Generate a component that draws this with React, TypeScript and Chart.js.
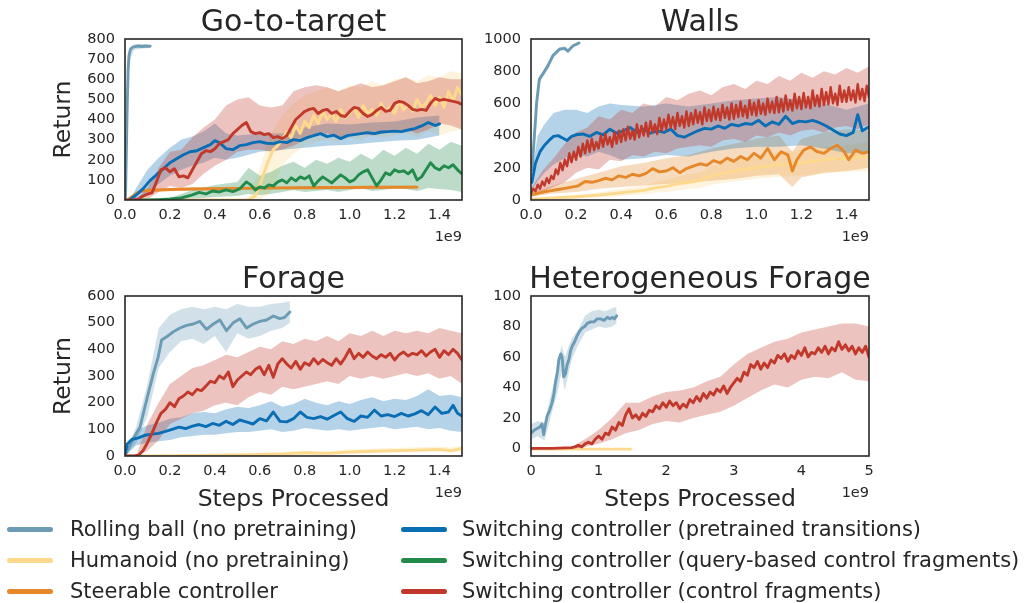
import React, { useEffect, useRef } from 'react';
import { Chart, registerables } from 'chart.js';
Chart.register(...registerables);

const FONT = "'DejaVu Sans', 'Noto Sans', sans-serif";
const TEXT = '#262626';

// ---------- colours ----------
const C_BALL = '#6b9bb5';
const C_HUM = '#fdd98e';
const C_STEER = '#e68829';
const C_PRE = '#0a6eb4';
const C_QUERY = '#228b4b';
const C_FRAG = '#c0392b';

// ---------- tick values ----------
const xTicks15 = [0, 0.2, 0.4, 0.6, 0.8, 1.0, 1.2, 1.4];
const xTicksHet = [0, 1, 2, 3, 4, 5];
const yTicksGtt = [0, 100, 200, 300, 400, 500, 600, 700, 800];
const yTicksWalls = [0, 200, 400, 600, 800, 1000];
const yTicksFor = [0, 100, 200, 300, 400, 500, 600];
const yTicksHet = [0, 20, 40, 60, 80, 100];

// ---------- Go-to-target ----------
const gttBallX = [0.002, 0.006, 0.010, 0.014, 0.018, 0.024, 0.032, 0.045, 0.060, 0.075, 0.090, 0.105, 0.112];
const gttBallY = [0, 240, 480, 650, 720, 748, 758, 762, 765, 763, 765, 764, 764];
const gttBallBX = [0.002, 0.01, 0.02, 0.04, 0.07, 0.112];
const gttBallLo = [0, 440, 690, 745, 752, 755];
const gttBallHi = [0, 520, 750, 775, 775, 772];

const gttHumX = [0, 0.1, 0.2, 0.3, 0.4, 0.5, 0.55, 0.58, 0.6, 0.62, 0.64, 0.66, 0.68, 0.7, 0.72, 0.74, 0.76, 0.78, 0.8, 0.82, 0.84, 0.86, 0.88, 0.9, 0.92, 0.94, 0.96, 0.98, 1.0, 1.02, 1.04, 1.06, 1.08, 1.1, 1.12, 1.14, 1.16, 1.18, 1.2, 1.22, 1.24, 1.26, 1.28, 1.3, 1.32, 1.34, 1.36, 1.38, 1.4, 1.42, 1.44, 1.46, 1.48, 1.5];
const gttHumY = [0, 0, 0, 0, 0, 0, 2, 20, 70, 140, 200, 250, 270, 300, 340, 310, 370, 330, 390, 360, 420, 380, 440, 400, 430, 390, 450, 410, 430, 460, 410, 470, 430, 450, 420, 480, 440, 460, 430, 490, 450, 470, 440, 500, 460, 480, 520, 470, 510, 460, 540, 490, 560, 520];
const gttHumBX = [0.5, 0.55, 0.6, 0.65, 0.7, 0.75, 0.8, 0.85, 0.9, 0.95, 1.0, 1.05, 1.1, 1.15, 1.2, 1.25, 1.3, 1.35, 1.4, 1.45, 1.5];
const gttHumLo = [0, 0, 0, 40, 170, 230, 270, 290, 300, 290, 310, 300, 320, 310, 320, 330, 310, 340, 320, 340, 350];
const gttHumHi = [0, 10, 160, 330, 420, 480, 520, 540, 560, 540, 570, 560, 590, 570, 600, 610, 590, 620, 610, 640, 630];

const gttSteerX = [0.01, 0.03, 0.05, 0.07, 0.1, 0.15, 0.2, 0.3, 0.4, 0.5, 0.6, 0.7, 0.8, 0.9, 1.0, 1.1, 1.2, 1.3];
const gttSteerY = [0, 15, 32, 44, 48, 50, 52, 55, 56, 58, 59, 60, 61, 62, 62, 63, 63, 64];
const gttSteerLo = [0, 8, 22, 34, 39, 42, 44, 47, 48, 50, 51, 52, 53, 54, 54, 55, 55, 56];
const gttSteerHi = [0, 22, 42, 54, 57, 58, 60, 63, 64, 66, 67, 68, 69, 70, 70, 71, 71, 72];

const gttPreX = [0.02, 0.05, 0.08, 0.11, 0.14, 0.17, 0.2, 0.23, 0.26, 0.29, 0.32, 0.35, 0.38, 0.4, 0.42, 0.45, 0.48, 0.51, 0.54, 0.57, 0.6, 0.63, 0.66, 0.69, 0.72, 0.75, 0.78, 0.81, 0.84, 0.87, 0.9, 0.93, 0.96, 0.99, 1.02, 1.05, 1.08, 1.11, 1.14, 1.17, 1.2, 1.23, 1.26, 1.29, 1.32, 1.35, 1.38, 1.4];
const gttPreY = [0, 25, 55, 95, 125, 155, 185, 205, 225, 240, 245, 260, 275, 295, 285, 255, 250, 270, 275, 285, 290, 282, 280, 290, 285, 300, 295, 310, 320, 330, 315, 322, 305, 320, 325, 330, 335, 330, 338, 340, 342, 340, 348, 355, 368, 385, 370, 378];
const gttPreBX = [0.02, 0.05, 0.1, 0.15, 0.2, 0.25, 0.3, 0.35, 0.4, 0.45, 0.5, 0.6, 0.7, 0.8, 0.9, 1.0, 1.1, 1.2, 1.3, 1.4];
const gttPreLo = [0, 5, 40, 80, 120, 150, 170, 185, 210, 200, 210, 240, 250, 260, 270, 275, 285, 295, 300, 320];
const gttPreHi = [0, 60, 150, 210, 260, 300, 315, 340, 380, 330, 320, 330, 330, 360, 380, 375, 385, 390, 410, 420];

const gttQueryX = [0.05, 0.1, 0.15, 0.2, 0.25, 0.3, 0.33, 0.36, 0.39, 0.42, 0.45, 0.48, 0.51, 0.54, 0.56, 0.58, 0.6, 0.62, 0.64, 0.66, 0.68, 0.7, 0.72, 0.74, 0.76, 0.78, 0.8, 0.82, 0.84, 0.86, 0.88, 0.9, 0.92, 0.94, 0.96, 0.98, 1.0, 1.02, 1.04, 1.06, 1.08, 1.1, 1.12, 1.14, 1.16, 1.18, 1.2, 1.22, 1.24, 1.26, 1.28, 1.3, 1.32, 1.34, 1.36, 1.38, 1.4, 1.42, 1.44, 1.46, 1.48, 1.5];
const gttQueryY = [0, 0, 2, 5, 10, 25, 38, 30, 45, 40, 50, 42, 55, 90, 75, 50, 65, 60, 75, 70, 90, 100, 85, 110, 95, 115, 105, 120, 70, 95, 115, 100, 85, 105, 125, 110, 90, 100, 125, 140, 150, 110, 70, 100, 135, 125, 150, 140, 145, 130, 150, 100, 115, 150, 185, 160, 150, 170, 160, 175, 150, 130];
const gttQueryBX = [0.1, 0.2, 0.3, 0.4, 0.5, 0.55, 0.6, 0.65, 0.7, 0.75, 0.8, 0.85, 0.9, 0.95, 1.0, 1.05, 1.1, 1.15, 1.2, 1.25, 1.3, 1.35, 1.4, 1.45, 1.5];
const gttQueryLo = [0, 0, 5, 15, 20, 30, 25, 30, 40, 50, 40, 45, 50, 40, 50, 60, 45, 50, 60, 55, 45, 60, 55, 50, 40];
const gttQueryHi = [0, 10, 50, 75, 90, 160, 120, 140, 170, 190, 160, 200, 180, 210, 190, 230, 200, 250, 220, 260, 230, 280, 250, 290, 270];

const gttFragX = [0, 0.04, 0.06, 0.08, 0.1, 0.12, 0.14, 0.16, 0.18, 0.2, 0.22, 0.24, 0.26, 0.28, 0.3, 0.32, 0.34, 0.36, 0.38, 0.4, 0.42, 0.44, 0.46, 0.48, 0.5, 0.52, 0.54, 0.56, 0.58, 0.6, 0.62, 0.64, 0.66, 0.68, 0.7, 0.72, 0.74, 0.76, 0.78, 0.8, 0.82, 0.84, 0.86, 0.88, 0.9, 0.92, 0.94, 0.96, 0.98, 1.0, 1.02, 1.04, 1.06, 1.08, 1.1, 1.12, 1.14, 1.16, 1.18, 1.2, 1.22, 1.24, 1.26, 1.28, 1.3, 1.32, 1.34, 1.36, 1.38, 1.4, 1.42, 1.44, 1.46, 1.48, 1.5];
const gttFragY = [0, 0, 5, 20, 30, 35, 90, 150, 160, 140, 155, 115, 120, 110, 150, 190, 230, 245, 240, 255, 280, 290, 300, 330, 350, 370, 385, 340, 330, 335, 325, 330, 310, 315, 305, 320, 360, 400, 420, 440, 450, 455, 430, 445, 450, 430, 440, 420, 415, 440, 460, 455, 430, 415, 425, 445, 460, 440, 445, 480, 490, 485, 470, 450, 445, 450, 445, 480, 505, 495, 500, 495, 490, 485, 475];
const gttFragBX = [0.05, 0.1, 0.15, 0.2, 0.25, 0.3, 0.35, 0.4, 0.45, 0.5, 0.55, 0.6, 0.65, 0.7, 0.75, 0.8, 0.85, 0.9, 0.95, 1.0, 1.05, 1.1, 1.15, 1.2, 1.25, 1.3, 1.35, 1.4, 1.45, 1.5];
const gttFragLo = [0, 5, 40, 70, 60, 80, 130, 170, 200, 240, 250, 250, 240, 250, 270, 300, 320, 330, 310, 320, 330, 320, 330, 340, 350, 330, 350, 380, 370, 350];
const gttFragHi = [0, 60, 160, 240, 250, 310, 360, 400, 470, 500, 510, 470, 460, 470, 540, 560, 570, 560, 540, 560, 580, 560, 570, 590, 610, 580, 590, 610, 600, 600];

// ---------- Walls ----------
const wallsBallX = [0.004, 0.015, 0.025, 0.037, 0.052, 0.075, 0.097, 0.127, 0.149, 0.164, 0.187, 0.213];
const wallsBallY = [187, 396, 604, 750, 781, 833, 896, 937, 942, 925, 958, 975];
const wallsBallLo = [150, 350, 560, 720, 760, 815, 880, 925, 930, 912, 948, 965];
const wallsBallHi = [225, 440, 645, 775, 800, 850, 910, 950, 955, 938, 968, 985];

const wallsHumX = [0, 0.1, 0.2, 0.3, 0.4, 0.5, 0.55, 0.6, 0.65, 0.7, 0.75, 0.8, 0.9, 1.0, 1.1, 1.2, 1.3, 1.4, 1.5];
const wallsHumY = [5, 12, 20, 30, 45, 60, 75, 85, 100, 110, 120, 150, 180, 200, 220, 230, 250, 260, 270];
const wallsHumLo = [0, 5, 10, 15, 25, 35, 45, 50, 60, 70, 75, 95, 115, 130, 145, 150, 165, 175, 180];
const wallsHumHi = [12, 22, 32, 48, 68, 88, 110, 125, 145, 160, 170, 210, 250, 270, 300, 310, 330, 340, 360];

const wallsSteerX = [0, 0.03, 0.06, 0.09, 0.12, 0.15, 0.18, 0.21, 0.24, 0.27, 0.3, 0.33, 0.36, 0.39, 0.42, 0.45, 0.48, 0.51, 0.54, 0.57, 0.6, 0.63, 0.66, 0.69, 0.72, 0.75, 0.78, 0.81, 0.84, 0.87, 0.9, 0.93, 0.96, 0.99, 1.02, 1.05, 1.08, 1.11, 1.14, 1.16, 1.18, 1.21, 1.24, 1.27, 1.3, 1.33, 1.36, 1.39, 1.41, 1.44, 1.47, 1.5];
const wallsSteerY = [30, 42, 50, 58, 65, 72, 80, 88, 115, 110, 120, 135, 125, 150, 140, 160, 150, 165, 195, 175, 180, 200, 170, 195, 210, 225, 215, 245, 230, 260, 240, 270, 250, 290, 260, 320, 250, 300, 280, 180, 250, 310, 330, 300, 290, 320, 340, 300, 250, 310, 290, 300];
const wallsSteerBX = [0, 0.1, 0.2, 0.3, 0.4, 0.5, 0.6, 0.7, 0.8, 0.9, 1.0, 1.1, 1.16, 1.2, 1.3, 1.4, 1.5];
const wallsSteerLo = [20, 40, 50, 70, 80, 90, 100, 110, 120, 130, 150, 160, 80, 140, 170, 180, 200];
const wallsSteerHi = [45, 90, 130, 170, 210, 230, 260, 280, 320, 350, 380, 400, 300, 380, 420, 440, 430];

const wallsPreX = [0.004, 0.02, 0.04, 0.06, 0.08, 0.1, 0.12, 0.14, 0.16, 0.18, 0.2, 0.23, 0.26, 0.29, 0.32, 0.35, 0.38, 0.41, 0.44, 0.47, 0.5, 0.53, 0.56, 0.59, 0.62, 0.65, 0.68, 0.71, 0.74, 0.77, 0.8, 0.83, 0.86, 0.89, 0.92, 0.95, 0.98, 1.01, 1.04, 1.07, 1.1, 1.13, 1.16, 1.19, 1.22, 1.25, 1.28, 1.31, 1.34, 1.37, 1.4, 1.43, 1.45, 1.47, 1.5];
const wallsPreY = [110, 230, 300, 340, 370, 395, 400, 385, 370, 395, 405, 410, 395, 420, 405, 440, 415, 430, 450, 420, 440, 415, 430, 420, 440, 400, 390, 410, 430, 445, 440, 460, 445, 470, 460, 475, 470, 495, 460, 485, 470, 520, 475, 490, 485, 495, 480, 460, 435, 410, 400, 420, 530, 430, 455];
const wallsPreBX = [0.004, 0.03, 0.06, 0.1, 0.15, 0.2, 0.25, 0.3, 0.35, 0.4, 0.5, 0.6, 0.7, 0.8, 0.9, 1.0, 1.1, 1.2, 1.3, 1.4, 1.5];
const wallsPreLo = [60, 120, 170, 220, 260, 280, 270, 300, 280, 250, 260, 280, 270, 300, 320, 330, 330, 340, 320, 290, 300];
const wallsPreHi = [180, 400, 470, 540, 560, 560, 540, 580, 600, 590, 580, 600, 580, 600, 620, 630, 640, 620, 600, 560, 600];

const wallsFragX = [
  0, 0.01, 0.02, 0.03, 0.04, 0.05, 0.06, 0.07, 0.08, 0.09,
  0.1, 0.11, 0.12, 0.13, 0.14, 0.15, 0.16, 0.17, 0.18, 0.19,
  0.2, 0.21, 0.22, 0.23, 0.24, 0.25, 0.26, 0.27, 0.28, 0.29,
  0.3, 0.31, 0.32, 0.33, 0.34, 0.35, 0.36, 0.37, 0.38, 0.39,
  0.4, 0.41, 0.42, 0.43, 0.44, 0.45, 0.46, 0.47, 0.48, 0.49,
  0.5, 0.51, 0.52, 0.53, 0.54, 0.55, 0.56, 0.57, 0.58, 0.59,
  0.6, 0.61, 0.62, 0.63, 0.64, 0.65, 0.66, 0.67, 0.68, 0.69,
  0.7, 0.71, 0.72, 0.73, 0.74, 0.75, 0.76, 0.77, 0.78, 0.79,
  0.8, 0.81, 0.82, 0.83, 0.84, 0.85, 0.86, 0.87, 0.88, 0.89,
  0.9, 0.91, 0.92, 0.93, 0.94, 0.95, 0.96, 0.97, 0.98, 0.99,
  1.0, 1.01, 1.02, 1.03, 1.04, 1.05, 1.06, 1.07, 1.08, 1.09,
  1.1, 1.11, 1.12, 1.13, 1.14, 1.15, 1.16, 1.17, 1.18, 1.19,
  1.2, 1.21, 1.22, 1.23, 1.24, 1.25, 1.26, 1.27, 1.28, 1.29,
  1.3, 1.31, 1.32, 1.33, 1.34, 1.35, 1.36, 1.37, 1.38, 1.39,
  1.4, 1.41, 1.42, 1.43, 1.44, 1.45, 1.46, 1.47, 1.48, 1.49,
  1.5,
];
const wallsFragY = [
  40, 70, 55, 95, 70, 115, 90, 135, 105, 150,
  130, 190, 160, 230, 185, 250, 210, 290, 235, 300,
  250, 330, 270, 350, 290, 370, 300, 380, 310, 360,
  320, 400, 330, 410, 345, 390, 330, 420, 350, 430,
  360, 440, 370, 455, 380, 430, 375, 470, 390, 460,
  400, 480, 395, 490, 420, 470, 410, 510, 430, 500,
  440, 530, 450, 515, 440, 540, 460, 520, 450, 550,
  460, 540, 470, 560, 480, 545, 470, 575, 490, 560,
  490, 580, 500, 565, 495, 590, 510, 575, 500, 600,
  505, 590, 515, 610, 520, 585, 510, 620, 530, 605,
  525, 620, 535, 600, 530, 630, 545, 610, 540, 640,
  545, 625, 550, 650, 560, 620, 555, 660, 570, 640,
  565, 665, 575, 640, 570, 680, 585, 650, 580, 690,
  590, 670, 595, 700, 600, 660, 590, 710, 610, 680,
  610, 700, 620, 680, 605, 720, 625, 690, 615, 710,
  640,
];
const wallsFragBX = [0, 0.05, 0.1, 0.15, 0.2, 0.25, 0.3, 0.35, 0.4, 0.45, 0.5, 0.55, 0.6, 0.65, 0.7, 0.75, 0.8, 0.85, 0.9, 0.95, 1.0, 1.05, 1.1, 1.15, 1.2, 1.25, 1.3, 1.35, 1.4, 1.45, 1.5];
const wallsFragLo = [30, 50, 80, 110, 170, 200, 190, 250, 240, 280, 270, 300, 290, 320, 330, 340, 330, 370, 380, 360, 400, 390, 420, 400, 430, 440, 420, 450, 460, 440, 470];
const wallsFragHi = [70, 180, 260, 350, 420, 450, 520, 500, 560, 540, 600, 580, 640, 620, 660, 680, 650, 700, 720, 690, 740, 720, 770, 740, 790, 760, 800, 780, 820, 790, 830];

// ---------- Forage ----------
const forBallX = [0.004, 0.037, 0.067, 0.096, 0.126, 0.148, 0.163, 0.185, 0.215, 0.245, 0.274, 0.304, 0.333, 0.363, 0.393, 0.422, 0.452, 0.482, 0.511, 0.541, 0.571, 0.6, 0.63, 0.66, 0.689, 0.711, 0.734];
const forBallY = [9, 65, 109, 209, 309, 372, 435, 447, 466, 480, 490, 495, 505, 475, 495, 510, 470, 500, 515, 480, 495, 505, 510, 525, 515, 520, 540];
const forBallBX = [0.004, 0.05, 0.1, 0.15, 0.2, 0.25, 0.3, 0.35, 0.4, 0.45, 0.5, 0.55, 0.6, 0.65, 0.7, 0.734];
const forBallLo = [0, 50, 150, 330, 390, 430, 440, 420, 450, 390, 460, 440, 450, 470, 480, 500];
const forBallHi = [20, 110, 270, 480, 530, 550, 560, 550, 560, 550, 570, 560, 560, 570, 575, 580];

const forHumX = [0, 0.1, 0.2, 0.3, 0.4, 0.5, 0.6, 0.7, 0.8, 0.9, 1.0, 1.1, 1.2, 1.3, 1.4, 1.45, 1.5];
const forHumY = [0, 0, 1, 2, 3, 4, 6, 8, 12, 10, 15, 18, 20, 22, 25, 20, 28];
const forHumLo = [0, 0, 0, 0, 0, 1, 2, 3, 6, 5, 8, 10, 12, 14, 16, 12, 18];
const forHumHi = [2, 3, 4, 5, 7, 9, 12, 15, 20, 18, 24, 28, 30, 33, 36, 32, 40];

const forPreX = [0, 0.01, 0.03, 0.06, 0.09, 0.12, 0.15, 0.18, 0.21, 0.24, 0.27, 0.3, 0.33, 0.36, 0.39, 0.42, 0.45, 0.48, 0.51, 0.54, 0.57, 0.6, 0.63, 0.66, 0.69, 0.72, 0.75, 0.78, 0.81, 0.84, 0.87, 0.9, 0.93, 0.96, 0.99, 1.02, 1.05, 1.08, 1.11, 1.14, 1.17, 1.2, 1.23, 1.26, 1.29, 1.32, 1.35, 1.38, 1.41, 1.44, 1.46, 1.48, 1.5];
const forPreY = [5, 45, 62, 68, 78, 82, 85, 92, 100, 108, 103, 112, 118, 110, 122, 115, 130, 118, 135, 128, 120, 140, 132, 165, 130, 128, 140, 165, 145, 140, 148, 138, 152, 165, 140, 130, 150, 145, 172, 150, 155, 148, 160, 150, 158, 170, 155, 184, 160, 165, 190, 160, 150];
const forPreBX = [0, 0.05, 0.1, 0.15, 0.2, 0.25, 0.3, 0.35, 0.4, 0.45, 0.5, 0.55, 0.6, 0.65, 0.7, 0.75, 0.8, 0.85, 0.9, 0.95, 1.0, 1.05, 1.1, 1.15, 1.2, 1.25, 1.3, 1.35, 1.4, 1.45, 1.5];
const forPreLo = [0, 40, 50, 55, 60, 70, 75, 80, 80, 85, 90, 90, 95, 100, 90, 95, 105, 100, 95, 100, 95, 100, 105, 110, 100, 105, 110, 100, 105, 95, 90];
const forPreHi = [10, 95, 115, 125, 140, 145, 160, 165, 160, 175, 185, 180, 190, 205, 185, 195, 215, 200, 190, 205, 195, 210, 220, 205, 215, 210, 225, 250, 225, 230, 220];

const forFragX = [0, 0.04, 0.06, 0.08, 0.1, 0.12, 0.14, 0.16, 0.18, 0.2, 0.22, 0.24, 0.26, 0.28, 0.3, 0.32, 0.34, 0.36, 0.38, 0.4, 0.42, 0.44, 0.46, 0.48, 0.5, 0.52, 0.54, 0.56, 0.58, 0.6, 0.62, 0.64, 0.66, 0.68, 0.7, 0.72, 0.74, 0.76, 0.78, 0.8, 0.82, 0.84, 0.86, 0.88, 0.9, 0.92, 0.94, 0.96, 0.98, 1.0, 1.02, 1.04, 1.06, 1.08, 1.1, 1.12, 1.14, 1.16, 1.18, 1.2, 1.22, 1.24, 1.26, 1.28, 1.3, 1.32, 1.34, 1.36, 1.38, 1.4, 1.42, 1.44, 1.46, 1.48, 1.5];
const forFragY = [0, 0, 3, 20, 50, 85, 125, 160, 175, 200, 185, 215, 225, 240, 230, 250, 245, 262, 280, 275, 300, 290, 315, 260, 285, 300, 315, 305, 325, 335, 305, 340, 295, 345, 365, 345, 330, 355, 325, 350, 340, 365, 345, 362, 350, 340, 365, 345, 370, 400, 365, 385, 370, 390, 375, 365, 380, 370, 385, 360, 380, 390, 375, 385, 380, 395, 375, 390, 400, 370, 395, 380, 400, 385, 360];
const forFragBX = [0.05, 0.1, 0.15, 0.2, 0.25, 0.3, 0.35, 0.4, 0.45, 0.5, 0.55, 0.6, 0.65, 0.7, 0.75, 0.8, 0.85, 0.9, 0.95, 1.0, 1.05, 1.1, 1.15, 1.2, 1.25, 1.3, 1.35, 1.4, 1.45, 1.5];
const forFragLo = [0, 20, 60, 120, 140, 160, 170, 190, 200, 190, 220, 240, 230, 260, 250, 260, 270, 280, 270, 300, 290, 300, 290, 300, 310, 300, 310, 290, 300, 270];
const forFragHi = [0, 120, 200, 270, 300, 330, 340, 360, 380, 370, 390, 410, 400, 430, 420, 440, 430, 450, 430, 460, 450, 470, 450, 470, 460, 470, 460, 480, 470, 460];

// ---------- Heterogeneous Forage ----------
const hetBallX = [0.0, 0.05, 0.09, 0.13, 0.163, 0.188, 0.21, 0.238, 0.275, 0.312, 0.34, 0.361, 0.39, 0.411, 0.44, 0.46, 0.485, 0.51, 0.535, 0.559, 0.585, 0.609, 0.645, 0.683, 0.72, 0.757, 0.795, 0.832, 0.88, 0.931, 0.98, 1.03, 1.08, 1.129, 1.17, 1.203, 1.235, 1.267];
const hetBallY = [10, 12, 13, 14, 16, 9, 15, 21, 25, 30, 36, 43, 50, 58, 62, 60, 47, 49, 55, 58, 64, 67, 70, 74, 77, 79, 80, 82, 83, 83, 85, 85, 84, 86, 85, 86, 85, 87];
const hetBallBX = [0, 0.1, 0.2, 0.3, 0.4, 0.45, 0.5, 0.6, 0.7, 0.8, 0.9, 1.0, 1.1, 1.2, 1.267];
const hetBallLo = [6, 8, 5, 22, 38, 50, 38, 58, 68, 76, 78, 80, 79, 80, 82];
const hetBallHi = [16, 18, 17, 36, 55, 68, 60, 72, 78, 87, 90, 91, 90, 92, 93];

const hetHumX = [0, 1.47];
const hetHumY = [-0.5, -0.5];
const hetHumLo = [-0.8, -0.8];
const hetHumHi = [-0.2, -0.2];

const hetFragX = [0, 0.3, 0.6, 0.65, 0.7, 0.75, 0.8, 0.85, 0.9, 0.95, 1.0, 1.05, 1.1, 1.15, 1.2, 1.25, 1.3, 1.35, 1.4, 1.45, 1.5, 1.55, 1.6, 1.65, 1.7, 1.75, 1.8, 1.85, 1.9, 1.95, 2.0, 2.05, 2.1, 2.15, 2.2, 2.25, 2.3, 2.35, 2.4, 2.45, 2.5, 2.55, 2.6, 2.65, 2.7, 2.75, 2.8, 2.85, 2.9, 2.95, 3.0, 3.05, 3.1, 3.15, 3.2, 3.25, 3.3, 3.35, 3.4, 3.45, 3.5, 3.55, 3.6, 3.65, 3.7, 3.75, 3.8, 3.85, 3.9, 3.95, 4.0, 4.05, 4.1, 4.15, 4.2, 4.25, 4.3, 4.35, 4.4, 4.45, 4.5, 4.55, 4.6, 4.65, 4.7, 4.75, 4.8, 4.85, 4.9, 4.95, 5.0];
const hetFragY = [0, 0, 0.5, 1, 2, 1, 3, 4, 3, 6, 8, 6, 10, 9, 14, 12, 17, 15, 22, 26, 20, 22, 19, 23, 21, 25, 24, 28, 26, 30, 27, 31, 28, 30, 26, 29, 27, 32, 30, 34, 31, 36, 33, 37, 35, 39, 37, 41, 36, 40, 43, 46, 44, 50, 48, 55, 53, 57, 52, 56, 53, 58, 56, 61, 59, 62, 57, 61, 59, 64, 61, 66, 60, 63, 62, 66, 63, 67, 62, 66, 64, 70, 65, 68, 64, 67, 62, 66, 63, 67, 60];
const hetFragBX = [0.6, 0.8, 1.0, 1.2, 1.4, 1.6, 1.8, 2.0, 2.2, 2.4, 2.6, 2.8, 3.0, 3.2, 3.4, 3.6, 3.8, 4.0, 4.2, 4.4, 4.6, 4.8, 5.0];
const hetFragLo = [0, 1, 3, 6, 10, 12, 16, 18, 17, 20, 22, 24, 28, 33, 38, 42, 40, 45, 47, 46, 50, 45, 44];
const hetFragHi = [1, 6, 12, 20, 30, 30, 34, 37, 38, 40, 44, 47, 55, 62, 66, 70, 72, 76, 78, 80, 82, 82, 80];

// ---------- helpers ----------
type Series = { x: number[]; y: number[]; bx: number[]; lo: number[]; hi: number[]; color: string; lw?: number };

function rgba(hex: string, a: number) {
  const n = parseInt(hex.slice(1), 16);
  return `rgba(${(n >> 16) & 255}, ${(n >> 8) & 255}, ${n & 255}, ${a})`;
}

const panels = [
  {
    title: 'Go-to-target', left: 0, top: 0, W: 470, H: 255,
    pad: { left: 50, top: 39, right: 8, bottom: 0 }, yW: 75, xH: 55,
    xMax: 1.5, xTicks: xTicks15, xFmt: (v: number) => v.toFixed(1),
    yMin: 0, yMax: 800, yTicks: yTicksGtt, yTitle: 'Return', xTitle: '',
    series: [
      { x: gttBallX, y: gttBallY, bx: gttBallBX, lo: gttBallLo, hi: gttBallHi, color: C_BALL },
      { x: gttHumX, y: gttHumY, bx: gttHumBX, lo: gttHumLo, hi: gttHumHi, color: C_HUM },
      { x: gttSteerX, y: gttSteerY, bx: gttSteerX, lo: gttSteerLo, hi: gttSteerHi, color: C_STEER },
      { x: gttPreX, y: gttPreY, bx: gttPreBX, lo: gttPreLo, hi: gttPreHi, color: C_PRE },
      { x: gttQueryX, y: gttQueryY, bx: gttQueryBX, lo: gttQueryLo, hi: gttQueryHi, color: C_QUERY },
      { x: gttFragX, y: gttFragY, bx: gttFragBX, lo: gttFragLo, hi: gttFragHi, color: C_FRAG },
    ] as Series[],
  },
  {
    title: 'Walls', left: 470, top: 0, W: 559, H: 255,
    pad: { left: 0, top: 39, right: 160, bottom: 0 }, yW: 61, xH: 55,
    xMax: 1.5, xTicks: xTicks15, xFmt: (v: number) => v.toFixed(1),
    yMin: 0, yMax: 1000, yTicks: yTicksWalls, yTitle: '', xTitle: '',
    series: [
      { x: wallsBallX, y: wallsBallY, bx: wallsBallX, lo: wallsBallLo, hi: wallsBallHi, color: C_BALL },
      { x: wallsHumX, y: wallsHumY, bx: wallsHumX, lo: wallsHumLo, hi: wallsHumHi, color: C_HUM },
      { x: wallsSteerX, y: wallsSteerY, bx: wallsSteerBX, lo: wallsSteerLo, hi: wallsSteerHi, color: C_STEER },
      { x: wallsPreX, y: wallsPreY, bx: wallsPreBX, lo: wallsPreLo, hi: wallsPreHi, color: C_PRE },
      { x: wallsFragX, y: wallsFragY, bx: wallsFragBX, lo: wallsFragLo, hi: wallsFragHi, color: C_FRAG, lw: 2.4 },
    ] as Series[],
  },
  {
    title: 'Forage', left: 0, top: 255, W: 470, H: 265,
    pad: { left: 50, top: 41, right: 8, bottom: 6 }, yW: 75, xH: 58,
    xMax: 1.5, xTicks: xTicks15, xFmt: (v: number) => v.toFixed(1),
    yMin: 0, yMax: 600, yTicks: yTicksFor, yTitle: 'Return', xTitle: 'Steps Processed',
    series: [
      { x: forBallX, y: forBallY, bx: forBallBX, lo: forBallLo, hi: forBallHi, color: C_BALL },
      { x: forHumX, y: forHumY, bx: forHumX, lo: forHumLo, hi: forHumHi, color: C_HUM },
      { x: forPreX, y: forPreY, bx: forPreBX, lo: forPreLo, hi: forPreHi, color: C_PRE },
      { x: forFragX, y: forFragY, bx: forFragBX, lo: forFragLo, hi: forFragHi, color: C_FRAG },
    ] as Series[],
  },
  {
    title: 'Heterogeneous Forage', left: 470, top: 255, W: 559, H: 265,
    pad: { left: 0, top: 41, right: 160, bottom: 6 }, yW: 61, xH: 58,
    xMax: 5, xTicks: xTicksHet, xFmt: (v: number) => String(v),
    yMin: -5, yMax: 100, yTicks: yTicksHet, yTitle: '', xTitle: 'Steps Processed',
    series: [
      { x: hetBallX, y: hetBallY, bx: hetBallBX, lo: hetBallLo, hi: hetBallHi, color: C_BALL },
      { x: hetHumX, y: hetHumY, bx: hetHumX, lo: hetHumLo, hi: hetHumHi, color: C_HUM },
      { x: hetFragX, y: hetFragY, bx: hetFragBX, lo: hetFragLo, hi: hetFragHi, color: C_FRAG },
    ] as Series[],
  },
];

type PanelCfg = typeof panels[number];

function Panel({ cfg }: { cfg: PanelCfg }) {
  const ref = useRef<HTMLCanvasElement>(null);
  useEffect(() => {
    const canvas = ref.current;
    if (!canvas) return;
    const datasets: any[] = [];
    cfg.series.forEach((s, k) => {
      datasets.push({
        data: s.bx.map((x, i) => ({ x, y: s.lo[i] })),
        borderWidth: 0, borderColor: 'transparent', pointRadius: 0, fill: false, order: 200 - 2 * k,
      });
      datasets.push({
        data: s.bx.map((x, i) => ({ x, y: s.hi[i] })),
        borderWidth: 0, borderColor: 'transparent', pointRadius: 0, fill: '-1',
        backgroundColor: rgba(s.color, 0.3), order: 200 - 2 * k,
      });
    });
    cfg.series.forEach((s, k) => {
      datasets.push({
        data: s.x.map((x, i) => ({ x, y: s.y[i] })),
        borderColor: s.color, borderWidth: s.lw ?? 2.9, pointRadius: 0, fill: false,
        borderJoinStyle: 'round', borderCapStyle: 'round', order: 50 - k,
      });
    });
    const decor = {
      id: 'decor',
      afterDraw(chart: any) {
        const { ctx, chartArea: a } = chart;
        ctx.save();
        ctx.strokeStyle = TEXT;
        ctx.lineWidth = 1.6;
        ctx.strokeRect(a.left, a.top, a.right - a.left, a.bottom - a.top);
        ctx.fillStyle = TEXT;
        ctx.font = `30px ${FONT}`;
        ctx.textAlign = 'center';
        ctx.textBaseline = 'alphabetic';
        ctx.fillText(cfg.title, (a.left + a.right) / 2, a.top - 8);
        ctx.font = `14.5px ${FONT}`;
        ctx.textAlign = 'right';
        ctx.textBaseline = 'middle';
        ctx.fillText('1e9', a.right, a.bottom + 37);
        ctx.restore();
      },
    };
    const chart = new Chart(canvas, {
      type: 'line',
      data: { datasets },
      options: {
        animation: false,
        responsive: false,
        events: [],
        layout: { padding: cfg.pad },
        plugins: { legend: { display: false }, tooltip: { enabled: false }, title: { display: false } },
        scales: {
          x: {
            type: 'linear', min: 0, max: cfg.xMax,
            grid: { display: false, drawTicks: false },
            border: { display: false },
            afterBuildTicks: (axis: any) => { axis.ticks = cfg.xTicks.map((v) => ({ value: v })); },
            afterFit: (s: any) => { s.height = cfg.xH; },
            ticks: {
              font: { size: 14.5, family: FONT }, color: TEXT, padding: 7,
              autoSkip: false, maxRotation: 0,
              callback: (v: any) => cfg.xFmt(Number(v)),
            },
            title: {
              display: !!cfg.xTitle, text: cfg.xTitle, color: TEXT,
              font: { size: 23.5, family: FONT }, padding: { top: 0, bottom: 0 },
            },
          },
          y: {
            type: 'linear', min: cfg.yMin, max: cfg.yMax,
            grid: { display: false, drawTicks: false },
            border: { display: false },
            afterBuildTicks: (axis: any) => { axis.ticks = cfg.yTicks.map((v) => ({ value: v })); },
            afterFit: (s: any) => { s.width = cfg.yW; },
            ticks: {
              font: { size: 14.5, family: FONT }, color: TEXT, padding: 10,
              autoSkip: false, callback: (v: any) => String(v),
            },
            title: {
              display: !!cfg.yTitle, text: cfg.yTitle, color: TEXT,
              font: { size: 23.5, family: FONT }, padding: { top: 0, bottom: 0 },
            },
          },
        },
      } as any,
      plugins: [decor],
    });
    return () => chart.destroy();
  }, [cfg]);
  return (
    <canvas
      ref={ref}
      width={cfg.W}
      height={cfg.H}
      style={{ position: 'absolute', left: cfg.left, top: cfg.top, width: cfg.W, height: cfg.H }}
    />
  );
}

const legendLabels = [
  'Rolling ball (no pretraining)',
  'Humanoid (no pretraining)',
  'Steerable controller',
  'Switching controller (pretrained transitions)',
  'Switching controller (query-based control fragments)',
  'Switching controller (control fragments)',
];
const legendColors = [C_BALL, C_HUM, C_STEER, C_PRE, C_QUERY, C_FRAG];

function Legend() {
  const colHandle = [7, 401];
  const colText = [70, 462];
  const rowY = [529, 560, 591];
  return (
    <>
      {legendLabels.map((label, i) => {
        const col = i < 3 ? 0 : 1;
        const row = i % 3;
        return (
          <React.Fragment key={label}>
            <div style={{
              position: 'absolute', left: colHandle[col], top: rowY[row] - 2.5, width: 46, height: 5,
              borderRadius: 2.5, background: legendColors[i],
            }} />
            <div style={{
              position: 'absolute', left: colText[col], top: rowY[row] - 13, height: 26,
              lineHeight: '26px', fontSize: 21, fontFamily: FONT, color: TEXT, whiteSpace: 'nowrap',
            }}>{label}</div>
          </React.Fragment>
        );
      })}
    </>
  );
}

export default function App() {
  return (
    <div style={{ position: 'absolute', left: 0, top: 0, width: 1029, height: 603, background: '#fff', overflow: 'hidden' }}>
      {panels.map((p) => <Panel key={p.title} cfg={p} />)}
      <Legend />
    </div>
  );
}
